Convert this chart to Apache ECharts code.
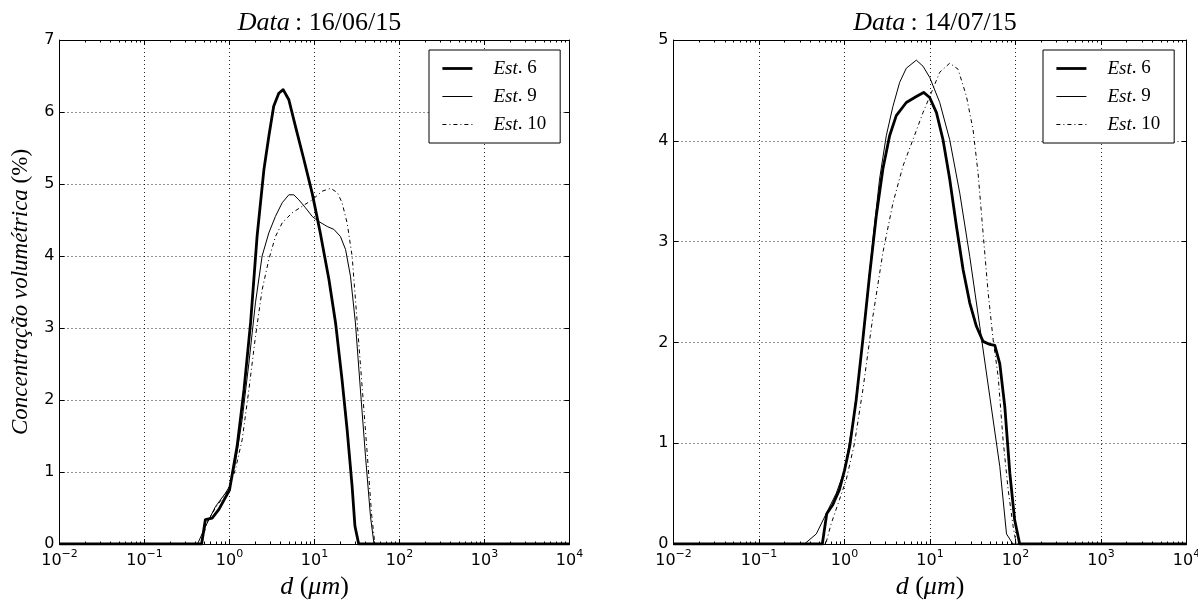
<!DOCTYPE html>
<html>
<head>
<meta charset="utf-8">
<script src="https://cdn.jsdelivr.net/npm/echarts@6/dist/echarts.min.js"></script>
<style>
html,body{margin:0;padding:0;background:#fff;}
#c{width:1198px;height:604px;}
</style>
</head>
<body>
<div id="c"></div>
<script>
// ---------- DATA (d in micrometres, concentration in %) ----------
const titles = ['16/06/15', '14/07/15'];
const seriesNames = ['Est. 6', 'Est. 9', 'Est. 10'];
const xTickValues = [0.01, 0.1, 1, 10, 100, 1000, 10000];
const yMaxLeft = 7;
const yMaxRight = 5;

const left_est6 = [
  [0.01,0],[0.47,0],[0.52,0.34],[0.625,0.36],[0.75,0.48],[1.0,0.75],[1.23,1.36],[1.48,2.14],
  [1.77,3.07],[2.11,4.27],[2.54,5.2],[2.9,5.66],[3.31,6.08],[3.8,6.26],[4.28,6.31],[4.99,6.17],
  [5.97,5.8],[7.5,5.34],[9.4,4.87],[11.7,4.32],[14.8,3.67],[17.7,3.07],[21.1,2.28],[24.2,1.59],
  [27.7,0.8],[29.9,0.25],[33.1,0],[10000,0]
];
const left_est9 = [
  [0.01,0],[0.42,0],[0.525,0.25],[0.684,0.52],[0.9,0.71],[1.0,0.8],[1.17,1.12],[1.41,1.73],
  [1.69,2.51],[2.02,3.35],[2.42,4.0],[2.9,4.32],[3.47,4.55],[4.17,4.74],[4.99,4.85],[5.71,4.85],
  [6.55,4.78],[7.83,4.67],[9.4,4.55],[11.2,4.48],[14.1,4.41],[16.9,4.37],[20.2,4.27],[23.2,4.09],
  [26.5,3.72],[30.3,3.07],[34.7,2.14],[39.8,1.22],[45.6,0.38],[50.1,0],[10000,0]
];
const left_est10 = [
  [0.01,0],[0.47,0],[0.54,0.3],[0.684,0.5],[0.9,0.7],[1.0,0.8],[1.17,1.03],[1.41,1.45],
  [1.69,2.14],[2.02,2.88],[2.42,3.53],[2.9,3.95],[3.47,4.27],[4.17,4.46],[5.46,4.6],[7.16,4.69],
  [9.4,4.78],[12.3,4.9],[15.5,4.94],[18.6,4.88],[21.1,4.74],[24.2,4.46],[27.7,4.0],[31.6,3.12],
  [36.3,2.19],[41.7,1.26],[46.8,0.43],[51.3,0],[10000,0]
];
const right_est6 = [
  [0.01,0],[0.55,0],[0.62,0.3],[0.73,0.39],[0.873,0.54],[1.0,0.73],[1.15,0.97],[1.37,1.43],
  [1.64,2.03],[1.96,2.66],[2.35,3.25],[2.81,3.72],[3.37,4.05],[4.03,4.25],[5.28,4.38],[6.92,4.44],
  [8.43,4.48],[9.91,4.43],[11.9,4.28],[14.2,4.01],[17.0,3.62],[20.4,3.15],[24.4,2.72],[29.2,2.39],
  [34.9,2.16],[41.7,2.01],[50.1,1.98],[57.3,1.97],[65.5,1.79],[75.0,1.36],[85.9,0.7],[97.7,0.24],
  [112,0],[10000,0]
];
const right_est9 = [
  [0.01,0],[0.34,0],[0.468,0.1],[0.61,0.3],[0.798,0.5],[1.0,0.73],[1.25,1.2],[1.5,1.73],
  [1.79,2.36],[2.15,3.02],[2.57,3.62],[3.08,4.05],[3.68,4.34],[4.42,4.58],[5.28,4.72],[6.92,4.8],
  [8.28,4.74],[9.91,4.63],[13.0,4.38],[17.0,4.01],[22.3,3.48],[29.2,2.85],[38.2,2.16],[50.1,1.46],
  [65.5,0.77],[78.5,0.1],[93.3,0],[10000,0]
];
const right_est10 = [
  [0.01,0],[0.603,0],[0.698,0.2],[0.873,0.44],[1.05,0.64],[1.31,1.0],[1.64,1.53],[2.15,2.26],
  [2.81,2.89],[3.68,3.38],[4.83,3.75],[6.31,4.01],[8.28,4.28],[10.4,4.48],[13.0,4.68],[17.0,4.77],
  [21.3,4.71],[26.7,4.44],[31.9,4.11],[36.5,3.68],[41.7,3.09],[47.9,2.49],[54.7,2.03],[62.7,1.66],
  [71.6,1.03],[82.0,0.54],[94.0,0.17],[102,0],[10000,0]
];

// ---------- helpers ----------
const SERIF = 'Liberation Serif';
const SANS = 'DejaVu Sans';
const minorTickValues = [];
for (let k = -2; k < 4; k++) {
  for (let m = 2; m <= 9; m++) minorTickValues.push(Number((m * Math.pow(10, k)).toPrecision(3)));
}
function expLabel(v) {
  const e = Math.round(Math.log10(v));
  return '{b|10}{s|' + String(e).replace('-', '\u2212') + '}';
}
const grids = [
  {left: 59.5, top: 40, width: 510, height: 504},
  {left: 673.5, top: 40, width: 513, height: 504}
];
const axisLineStyle = {color: '#000', width: 1};
const gridLineStyle = {color: '#000', width: 1, type: [1, 3], opacity: 0.85};

const xAxes = [];
const yAxes = [];
grids.forEach((g, gi) => {
  const base = {type: 'log', logBase: 10, min: 0.01, max: 10000, gridIndex: gi};
  xAxes.push(Object.assign({}, base, {
    position: 'bottom',
    axisLine: {show: true, onZero: false, lineStyle: axisLineStyle},
    axisTick: {show: true, inside: true, length: 5, customValues: xTickValues, lineStyle: axisLineStyle},
    axisLabel: {show: true, customValues: xTickValues, formatter: expLabel, margin: 5,
      rich: {
        b: {fontFamily: SANS, fontSize: 16, color: '#000', lineHeight: 20, verticalAlign: 'bottom'},
        s: {fontFamily: SANS, fontSize: 11, color: '#000', lineHeight: 11, verticalAlign: 'top'}
      }},
    splitLine: {show: true, lineStyle: gridLineStyle},
    name: '{i|d }{r|(}{i|\u03bcm}{r|)}',
    nameLocation: 'middle',
    nameGap: 28,
    nameTextStyle: {rich: {
      i: {fontFamily: SERIF, fontStyle: 'italic', fontSize: 26, color: '#000'},
      r: {fontFamily: SERIF, fontSize: 26, color: '#000'}
    }}
  }));
  xAxes.push(Object.assign({}, base, {
    position: 'bottom',
    axisLine: {show: false, onZero: false},
    axisTick: {show: true, inside: true, length: 2.5, customValues: minorTickValues, lineStyle: axisLineStyle},
    axisLabel: {show: false},
    splitLine: {show: false}
  }));
  xAxes.push(Object.assign({}, base, {
    position: 'top',
    axisLine: {show: true, onZero: false, lineStyle: axisLineStyle},
    axisTick: {show: true, inside: true, length: 5, customValues: xTickValues, lineStyle: axisLineStyle},
    axisLabel: {show: false},
    splitLine: {show: false}
  }));
  xAxes.push(Object.assign({}, base, {
    position: 'top',
    axisLine: {show: false, onZero: false},
    axisTick: {show: true, inside: true, length: 2.5, customValues: minorTickValues, lineStyle: axisLineStyle},
    axisLabel: {show: false},
    splitLine: {show: false}
  }));
  const ymax = gi === 0 ? yMaxLeft : yMaxRight;
  yAxes.push({
    type: 'value', gridIndex: gi, min: 0, max: ymax, interval: 1, position: 'left',
    axisLine: {show: true, onZero: false, lineStyle: axisLineStyle},
    axisTick: {show: true, inside: true, length: 5, lineStyle: axisLineStyle},
    axisLabel: {show: true, fontFamily: SANS, fontSize: 16, color: '#000', margin: 5},
    splitLine: {show: true, lineStyle: gridLineStyle},
    name: gi === 0 ? '{i|Concentra\u00e7\u00e3o volum\u00e9trica }{r|(%)}' : '',
    nameLocation: 'middle',
    nameRotate: 90,
    nameGap: 27,
    nameTextStyle: {rich: {
      i: {fontFamily: SERIF, fontStyle: 'italic', fontSize: 23, color: '#000'},
      r: {fontFamily: SERIF, fontSize: 23, color: '#000'}
    }}
  });
  yAxes.push({
    type: 'value', gridIndex: gi, min: 0, max: ymax, interval: 1, position: 'right',
    axisLine: {show: true, onZero: false, lineStyle: axisLineStyle},
    axisTick: {show: true, inside: true, length: 5, lineStyle: axisLineStyle},
    axisLabel: {show: false},
    splitLine: {show: false}
  });
});

function mk(name, data, gi, style) {
  return {
    name: name, type: 'line', data: data,
    xAxisIndex: gi * 4, yAxisIndex: gi * 2,
    symbol: 'none', showSymbol: false, smooth: false,
    silent: true, animation: false,
    lineStyle: Object.assign({color: '#000', join: 'round'}, style),
    itemStyle: {color: '#000'}
  };
}
const st6 = {width: 2.8, type: 'solid'};
const st9 = {width: 1, type: 'solid'};
const st10 = {width: 1, type: [4, 3, 1, 3]};

const series = [
  mk(seriesNames[0], left_est6, 0, st6),
  mk(seriesNames[1], left_est9, 0, st9),
  mk(seriesNames[2], left_est10, 0, st10),
  mk(seriesNames[0], right_est6, 1, st6),
  mk(seriesNames[1], right_est9, 1, st9),
  mk(seriesNames[2], right_est10, 1, st10)
];

function legendFmt(n) {
  const parts = n.split('.');
  return '{i|' + parts[0] + '}{r|.' + parts[1] + '}';
}
const legendRich = {
  i: {fontFamily: SERIF, fontStyle: 'italic', fontSize: 19, color: '#000', padding: [0, 0, 0, 16]},
  r: {fontFamily: SERIF, fontSize: 19, color: '#000'}
};
const legendStyles = [st6, st9, st10];
const legends = [429, 1043].map(x => ({
  show: true, orient: 'vertical', left: x, top: 50,
  data: seriesNames.map((n, i) => ({
    name: n,
    lineStyle: {color: '#000', width: legendStyles[i].width, type: legendStyles[i].type}
  })),
  formatter: legendFmt,
  textStyle: {rich: legendRich},
  itemWidth: 30, itemHeight: 14, itemGap: 9,
  itemStyle: {opacity: 0},
  padding: [9, 14, 9, 12],
  borderColor: '#000', borderWidth: 1, backgroundColor: '#fff',
  selectedMode: false
}));

const titleComps = grids.map((g, i) => ({
  text: '{i|Data}{r|\u2009: ' + titles[i] + '}',
  left: g.left + g.width / 2,
  textAlign: 'center',
  top: 5,
  textStyle: {fontWeight: 'normal', rich: {
    i: {fontFamily: SERIF, fontStyle: 'italic', fontWeight: 'normal', fontSize: 26, color: '#000'},
    r: {fontFamily: SERIF, fontWeight: 'normal', fontSize: 26, color: '#000'}
  }}
}));

const chart = echarts.init(document.getElementById('c'), null, {renderer: 'canvas'});
chart.setOption({
  backgroundColor: '#fff',
  animation: false,
  title: titleComps,
  legend: legends,
  grid: grids.map(g => Object.assign({containLabel: false, outerBoundsMode: 'none'}, g)),
  xAxis: xAxes,
  yAxis: yAxes,
  series: series
});
</script>
</body>
</html>
